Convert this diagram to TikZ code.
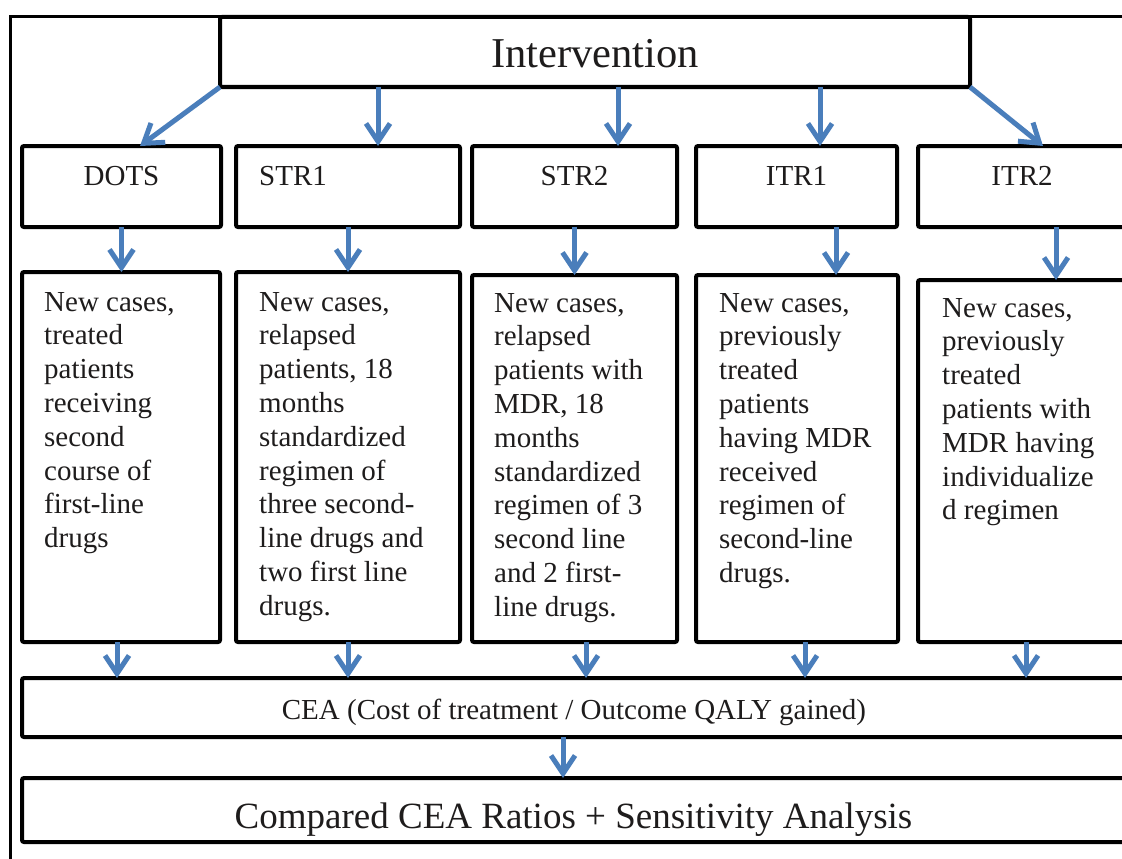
\documentclass[tikz,border=0pt]{standalone}
\usepackage{fontspec}
\setmainfont{Liberation Serif}
\usetikzlibrary{arrows.meta,calc}
\definecolor{arrowblue}{RGB}{74,126,187}
\definecolor{inkblack}{RGB}{30,28,28}
% top-aligned paragraph whose baseline is its first line
\newcommand\celltext[1]{\parbox[t]{300pt}{\raggedright #1}}

\begin{document}
\begin{tikzpicture}[x=1pt,y=-1pt,
  frameline/.style={draw, line width=3pt},
  box/.style={draw, line width=4pt, rounded corners=2pt, inner sep=0pt, outer sep=0pt},
  arr/.style={draw=arrowblue, line width=5pt, -{Straight Barb[length=18pt,width=24pt]}},
  body/.style={anchor=base west, inner sep=0pt, text=inkblack, font=\fontsize{29}{33.8}\selectfont},
  head/.style={anchor=base, inner sep=0pt, text=inkblack, font=\fontsize{29}{33.8}\selectfont},
]
\useasboundingbox (0,0) rectangle (1122,859);
\clip (0,0) rectangle (1122,859);
\fill[white] (0,0) rectangle (1122,859);

% outer frame
\draw[frameline] (10,17) rectangle (1140,880);

% top box
\node[box, minimum width=750pt, minimum height=70pt] (intv) at (595,52) {};
\node[anchor=base, inner sep=0pt, text=inkblack, font=\fontsize{42.5}{50}\selectfont] (intvT) at (595,67) {Intervention};

% strategy headers
\node[box, minimum width=199pt, minimum height=81pt] (dots) at (121.5,186.5) {};
\node[box, minimum width=224pt, minimum height=81pt] (str1) at (348,186.5) {};
\node[box, minimum width=205pt, minimum height=81pt] (str2) at (574.5,186.5) {};
\node[box, minimum width=201pt, minimum height=81pt] (itr1) at (796.5,186.5) {};
\node[box, minimum width=208pt, minimum height=81pt] (itr2) at (1022,186.5) {};
\node[head] (dotsT) at (121.5,185) {DOTS};
\node[head, anchor=base west] (str1T) at (259,185) {STR1};
\node[head] (str2T) at (574.5,185) {STR2};
\node[head] (itr1T) at (796.5,185) {ITR1};
\node[head] (itr2T) at (1022,185) {ITR2};

% descriptions
\node[box, minimum width=198pt, minimum height=370pt] (dotsd) at (121,457) {};
\node[box, minimum width=224pt, minimum height=370pt] (str1d) at (348,457) {};
\node[box, minimum width=205pt, minimum height=367pt] (str2d) at (574.5,458.5) {};
\node[box, minimum width=202pt, minimum height=367pt] (itr1d) at (797,458.5) {};
\node[box, minimum width=208pt, minimum height=362pt] (itr2d) at (1022,461) {};

\node[body] (dotsdT) at (44,311) {\celltext{New cases,\\ treated\\ patients\\ receiving\\ second\\ course of\\ first-line\\ drugs}};
\node[body] (str1dT) at (259,311) {\celltext{New cases,\\ relapsed\\ patients, 18\\ months\\ standardized\\ regimen of\\ three second-\\ line drugs and\\ two first line\\ drugs.}};
\node[body] (str2dT) at (494,312) {\celltext{New cases,\\ relapsed\\ patients with\\ MDR, 18\\ months\\ standardized\\ regimen of 3\\ second line\\ and 2 first-\\ line drugs.}};
\node[body] (itr1dT) at (719,312) {\celltext{New cases,\\ previously\\ treated\\ patients\\ having MDR\\ received\\ regimen of\\ second-line\\ drugs.}};
\node[body] (itr2dT) at (942,317) {\celltext{New cases,\\ previously\\ treated\\ patients with\\ MDR having\\ individualize\\ d regimen}};

% evaluation rows
\node[box, minimum width=1118pt, minimum height=59pt] (cea) at (581,707.5) {};
\node[box, minimum width=1118pt, minimum height=64pt] (comp) at (581,810) {};
\node[anchor=base, inner sep=0pt, text=inkblack, font=\fontsize{29}{33.8}\selectfont] (ceaT) at (574,719) {CEA (Cost of treatment / Outcome QALY gained)};
\node[anchor=base, inner sep=0pt, text=inkblack, font=\fontsize{37}{44}\selectfont] (compT) at (573.5,828) {Compared CEA Ratios + Sensitivity Analysis};

% arrows: intervention to strategies
\coordinate (tDots) at ($(dots.north)+(18.5,0)$);
\coordinate (tStr1) at ($(str1.north)+(30,0)$);
\coordinate (tStr2) at ($(str2.north)+(43.5,0)$);
\coordinate (tItr1) at ($(itr1.north)+(23.5,0)$);
\coordinate (tItr2) at ($(itr2.north)+(21,0)$);
\draw[arr] (intv.south west) -- (tDots);
\draw[arr] (intv.south -| tStr1) -- (tStr1);
\draw[arr] (intv.south -| tStr2) -- (tStr2);
\draw[arr] (intv.south -| tItr1) -- (tItr1);
\draw[arr] (intv.south east) -- (tItr2);

% arrows: strategies to descriptions
\coordinate (dItr1) at ($(itr1d.north)+(39,0)$);
\coordinate (dItr2) at ($(itr2d.north)+(34,0)$);
\draw[arr] (dots.south) -- (dots.south |- dotsd.north);
\draw[arr] (str1.south) -- (str1d.north);
\draw[arr] (str2.south) -- (str2d.north);
\draw[arr] (itr1.south -| dItr1) -- (dItr1);
\draw[arr] (itr2.south -| dItr2) -- (dItr2);

% arrows: descriptions to CEA
\coordinate (sDots) at ($(dotsd.south)+(-4,0)$);
\coordinate (sStr2) at ($(str2d.south)+(11.5,0)$);
\coordinate (sItr1) at ($(itr1d.south)+(8,0)$);
\coordinate (sItr2) at ($(itr2d.south)+(4,0)$);
\draw[arr] (sDots) -- (sDots |- cea.north);
\draw[arr] (str1d.south) -- (str1d.south |- cea.north);
\draw[arr] (sStr2) -- (sStr2 |- cea.north);
\draw[arr] (sItr1) -- (sItr1 |- cea.north);
\draw[arr] (sItr2) -- (sItr2 |- cea.north);

% arrow: CEA to comparison
\coordinate (sCea) at ($(cea.south)+(-18,0)$);
\draw[arr] (sCea) -- (sCea |- comp.north);
\end{tikzpicture}
\end{document}
